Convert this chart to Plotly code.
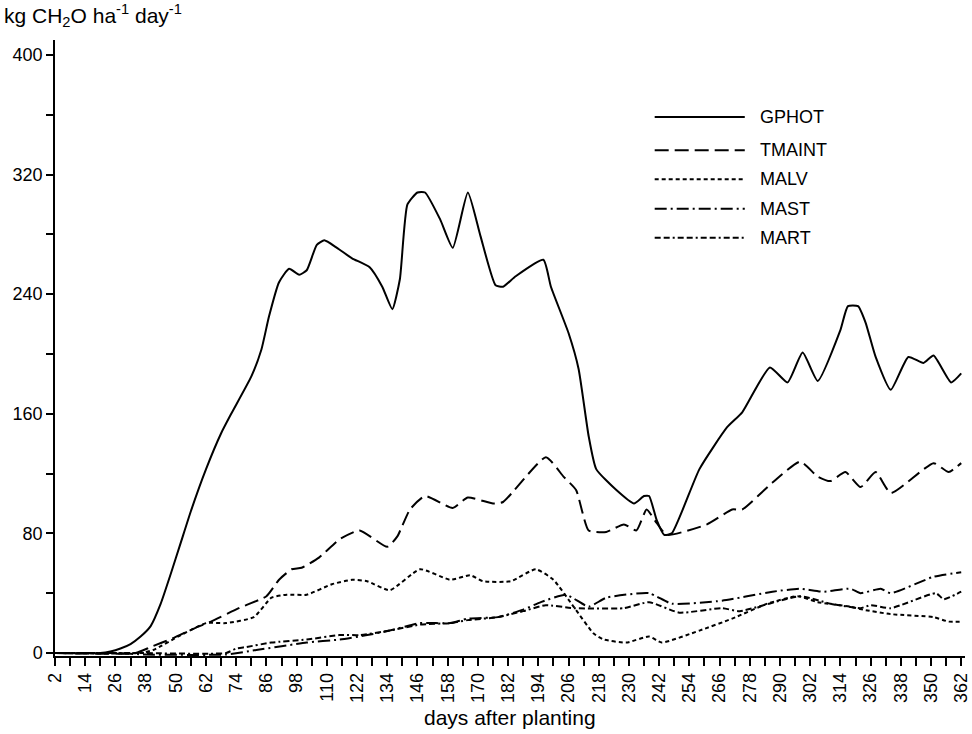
import plotly.graph_objects as go

# days after planting / kg CH2O per ha per day
gphot_days = [2, 20, 24, 28, 32, 36, 40, 44, 48, 52, 56, 62, 68, 72, 80, 84, 87, 91, 95, 99,
              102, 106, 109, 114, 120, 127, 132, 136, 139, 142, 146, 149, 155, 160, 166, 171,
              177, 180, 185, 196, 199, 206, 210, 214, 217, 225, 232, 236, 238, 241, 244, 247,
              258, 269, 275, 286, 293, 299, 305, 314, 317, 321, 324, 328, 334, 341, 347, 351,
              358, 362]
gphot = [0, 0, 1, 3, 6, 11, 18, 33, 53, 74, 95, 123, 147, 160, 185, 203, 225, 248, 257, 253,
         256, 273, 276, 271, 264, 258, 245, 230, 250, 300, 308, 308, 290, 271, 308, 279,
         246, 245, 252, 263, 245, 214, 190, 145, 123, 109, 100, 105, 105, 89, 79, 80,
         123, 151, 161, 191, 181, 201, 182, 216, 232, 232, 221, 198, 176, 198, 194, 199,
         181, 187]

tmaint_days = [2, 34, 40, 49, 58, 64, 75, 86, 91, 96, 100, 107, 115, 123, 134, 138, 143, 149,
               160, 166, 176, 180, 197, 204, 209, 214, 221, 228, 233, 237, 241, 245, 261, 271,
               275, 287, 298, 305, 310, 316, 322, 328, 334, 351, 357, 362]
tmaint = [0, 0, 4, 10, 17, 21, 30, 38, 49, 56, 57, 64, 76, 82, 71, 78, 96, 105,
          97, 104, 100, 101, 131, 118, 109, 82, 81, 86, 82, 96, 87, 79, 86, 96,
          96, 114, 128, 118, 115, 121, 111, 121, 107, 127, 121, 127]

malv_days = [2, 36, 41, 52, 62, 70, 81, 88, 94, 102, 112, 120, 126, 135, 147, 159, 167, 172,
             183, 193, 200, 208, 216, 220, 229, 238, 243, 258, 271, 285, 297, 305, 318, 323,
             334, 351, 357, 362]
malv = [0, 0, 2, 12, 20, 20, 24, 37, 39, 39, 46, 49, 48, 42, 56, 49, 52, 48,
        48, 56, 49, 31, 13, 9, 7, 11, 7, 15, 23, 33, 38, 34, 31, 29,
        26, 24, 21, 21]

mast_days = [2, 26, 38, 70, 82, 102, 115, 126, 135, 147, 159, 166, 178, 188, 195, 205, 214,
             221, 238, 247, 267, 287, 298, 307, 318, 322, 330, 334, 351, 362]
mast = [0, 0, -1, -1, 2, 7, 9, 12, 15, 20, 20, 23, 24, 29, 34, 39, 31,
        37, 40, 33, 35, 41, 43, 41, 43, 40, 43, 40, 51, 54]

mart_days = [2, 34, 70, 74, 78, 88, 102, 115, 123, 135, 147, 159, 166, 178, 188, 197, 208,
             228, 238, 250, 267, 274, 298, 310, 322, 326, 334, 352, 355, 362]
mart = [0, 0, 0, 3, 4, 7, 9, 12, 12, 15, 19, 20, 22, 24, 28, 32, 30,
        30, 34, 27, 30, 28, 38, 33, 30, 32, 30, 40, 36, 41]

series = [
    ("GPHOT", gphot_days, gphot, "solid"),
    ("TMAINT", tmaint_days, tmaint, "14px,6px"),
    ("MALV", malv_days, malv, "4px,3px"),
    ("MAST", mast_days, mast, "12px,4px,2px,4px"),
    ("MART", mart_days, mart, "6px,3px,6px,3px,2px,3px"),
]

x_ticks = list(range(2, 363, 6))
x_labels = [str(d) if (d - 2) % 12 == 0 else "" for d in x_ticks]
y_ticks = [0, 40, 80, 120, 160, 200, 240, 280, 320, 360, 400]
y_labels = ["0", "", "80", "", "160", "", "240", "", "320", "", "400"]

FONT = "Liberation Sans"

fig = go.Figure()
for name, d, v, dash in series:
    fig.add_trace(go.Scatter(x=d, y=v, mode="lines", name=name,
                             line=dict(color="black", width=2, dash=dash,
                                       shape="spline", smoothing=0.5),
                             showlegend=False))

# hand-drawn style legend on the right
leg_y = [0.875, 0.821, 0.774, 0.726, 0.679]
for (name, d, v, dash), yy in zip(series, leg_y):
    fig.add_shape(type="line", xref="paper", yref="paper",
                  x0=0.659, x1=0.758, y0=yy, y1=yy,
                  line=dict(color="black", width=2, dash=dash))
    fig.add_annotation(text=name, xref="paper", yref="paper", x=0.773, y=yy,
                       xanchor="left", yanchor="middle", showarrow=False,
                       font=dict(family=FONT, size=18, color="black"))

fig.add_annotation(text="kg CH<sub>2</sub>O ha<sup>-1</sup> day<sup>-1</sup>",
                   xref="paper", yref="paper", x=-0.058, y=1.04,
                   xanchor="left", yanchor="middle", showarrow=False,
                   font=dict(family=FONT, size=21, color="black"))
fig.add_annotation(text="days after planting", xref="paper", yref="paper",
                   x=0.5, y=-0.1, xanchor="center", yanchor="middle", showarrow=False,
                   font=dict(family=FONT, size=21, color="black"))

fig.update_xaxes(range=[2, 363.5], tickvals=x_ticks, ticktext=x_labels, tickangle=-90,
                 ticks="outside", ticklen=8, tickwidth=1.5, tickcolor="black",
                 showline=True, linecolor="black", linewidth=1.5,
                 showgrid=False, zeroline=False, automargin=False,
                 tickfont=dict(family=FONT, size=18, color="black"))
fig.update_yaxes(range=[-2, 410], tickvals=y_ticks, ticktext=y_labels,
                 ticks="outside", ticklen=7, tickwidth=1.5, tickcolor="black",
                 showline=True, linecolor="black", linewidth=1.5,
                 showgrid=False, zeroline=False, automargin=False,
                 tickfont=dict(family=FONT, size=18, color="black"))

fig.update_layout(width=972, height=734, plot_bgcolor="white", paper_bgcolor="white",
                  margin=dict(l=55, r=7, t=40, b=78))

# drop the default page margin so the figure sits at the window's corner
fig.write_html("out.html", config={"displayModeBar": False},
               post_script="document.body.style.margin='0';")
